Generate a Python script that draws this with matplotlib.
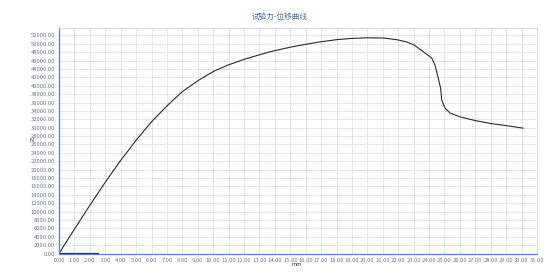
import matplotlib
matplotlib.use("Agg")
import matplotlib.pyplot as plt
from matplotlib.ticker import MultipleLocator, FormatStrFormatter

plt.rcParams['font.family'] = ['Noto Sans CJK SC', 'DejaVu Sans']

title = "试验力-位移曲线"
x_label = "mm"
y_label = "N"

disp = [0.0, 1.0, 2.0, 3.0, 4.0, 5.0, 6.0, 7.0, 8.0, 9.0, 10.0, 11.0, 12.0, 13.0,
        14.0, 15.0, 16.0, 17.0, 18.0, 19.0, 20.0, 21.0, 21.9, 22.5, 23.0, 23.6,
        24.17, 24.38, 24.6, 24.75, 24.82, 25.03, 25.36, 26.0, 27.0, 28.0, 29.0, 30.1]
force = [0, 5800, 11500, 17000, 22200, 27000, 31400, 35200, 38600, 41200, 43400,
         45000, 46300, 47400, 48400, 49200, 49900, 50500, 51000, 51300, 51450, 51400,
         51000, 50500, 49800, 48200, 46600, 45000, 41800, 39400, 36600, 34700, 33500,
         32600, 31700, 31000, 30500, 29900]

base_x = [0.0, 2.6]
base_y = [0, 0]

fig = plt.figure(figsize=(5.59, 2.72), dpi=100)
ax = fig.add_axes([59/559, 1-253.5/272, (537-59)/559, (253.5-27.5)/272])

ax.plot(disp, force, color='#2b2b2b', lw=0.8)
ax.plot(base_x, base_y, color='#1f2a44', lw=1.6, solid_capstyle='butt')

ax.set_xlim(0, 31)
ax.set_ylim(0, 53900)
ax.xaxis.set_major_locator(MultipleLocator(1))
ax.yaxis.set_major_locator(MultipleLocator(2000))
ax.xaxis.set_major_formatter(FormatStrFormatter('%.2f'))
ax.yaxis.set_major_formatter(FormatStrFormatter('%.2f'))
ax.grid(True, color='#c3cde2', lw=0.5, ls=(0, (2, 1)))
ax.tick_params(labelsize=4.2, colors='#6d7a90', length=0, pad=3)

for s in ['left', 'bottom']:
    ax.spines[s].set_color('#5b7fd0')
    ax.spines[s].set_linewidth(0.9)
for s in ['top', 'right']:
    ax.spines[s].set_color('#c5cee0')
    ax.spines[s].set_linewidth(0.5)

fig.text(280/559, 1-17/272, title, ha='center', va='center', fontsize=5.5, color='#4a6aa8')
fig.text(297/559, 1-265/272, x_label, ha='center', va='center', fontsize=4, color='#333333')
fig.text(32/559, 1-141/272, y_label, ha='center', va='center', fontsize=4, color='#333333')

fig.savefig('out.png', dpi=100, facecolor='white')
